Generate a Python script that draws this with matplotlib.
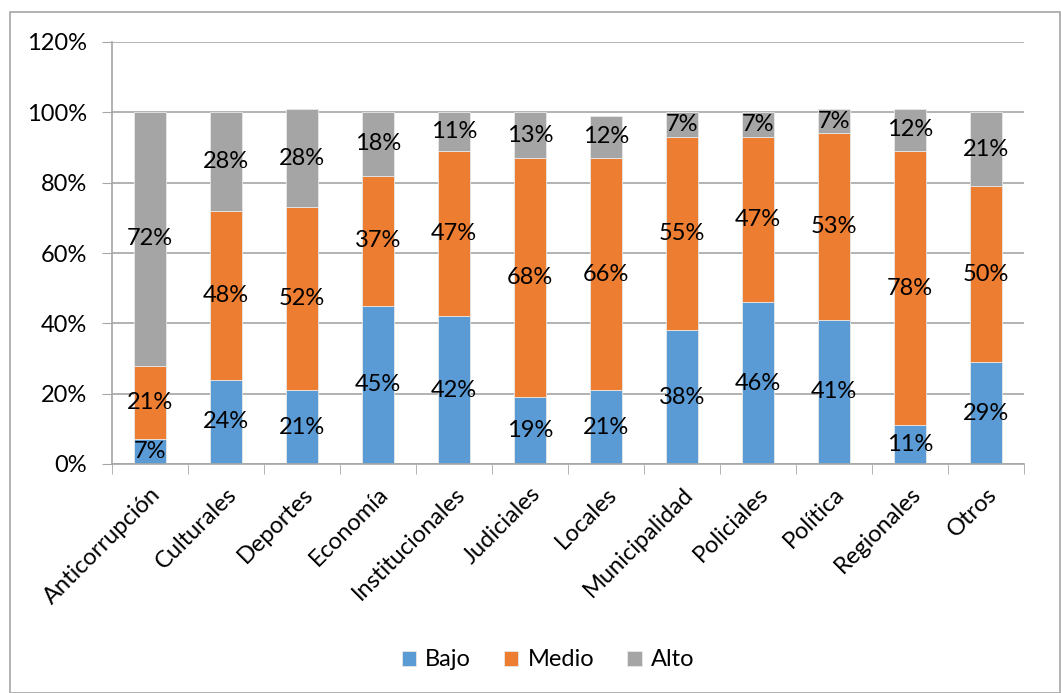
import numpy as np
import matplotlib.pyplot as plt
from matplotlib.patches import Rectangle

plt.rcParams['font.family'] = ['Lato', 'DejaVu Sans']

categories = ["Anticorrupción", "Culturales", "Deportes", "Economía", "Institucionales",
              "Judiciales", "Locales", "Municipalidad", "Policiales", "Política",
              "Regionales", "Otros"]
bajo = [7, 24, 21, 45, 42, 19, 21, 38, 46, 41, 11, 29]
medio = [21, 48, 52, 37, 47, 68, 66, 55, 47, 53, 78, 50]
alto = [72, 28, 28, 18, 11, 13, 12, 7, 7, 7, 12, 21]

colors = ["#5B9BD5", "#ED7D31", "#A5A5A5"]
names = ["Bajo", "Medio", "Alto"]

fig = plt.figure(figsize=(10.61, 6.93), dpi=100)
ax = fig.add_axes([112 / 1061, 1 - 464 / 693, 912 / 1061, 422 / 693])

x = np.arange(len(categories))
bottom = np.zeros(len(categories))
for vals, c, n in zip([bajo, medio, alto], colors, names):
    vals = np.array(vals)
    ax.bar(x, vals, 0.42, bottom=bottom, color=c, label=n, zorder=2,
           edgecolor="#E8E8E8", linewidth=0.6)
    for xi, b, v in zip(x, bottom, vals):
        ax.text(xi, b + v / 2, f"{v}%", ha="center", va="center", fontsize=17, zorder=3)
    bottom = bottom + vals

ax.set_xlim(-0.5, len(categories) - 0.5)
ax.set_ylim(0, 120)
ax.set_yticks(range(0, 121, 20))
ax.set_yticklabels([f"{v}%" for v in range(0, 121, 20)], fontsize=17)
ax.yaxis.grid(True, color="#A6A6A6", linewidth=1.2, zorder=0)
ax.set_axisbelow(True)

ax.set_xticks(x)
ax.set_xticklabels(categories, rotation=45, ha="right", rotation_mode="anchor", fontsize=17)
ax.set_xticks(np.arange(-0.5, len(categories), 1), minor=True)
ax.tick_params(axis="x", which="major", length=0, pad=14)
ax.tick_params(axis="x", which="minor", length=7, color="#A6A6A6")
ax.tick_params(axis="y", length=7, color="#A6A6A6", pad=11)

for s in ["top", "right"]:
    ax.spines[s].set_visible(False)
for s in ["left", "bottom"]:
    ax.spines[s].set_color("#A6A6A6")
    ax.spines[s].set_linewidth(1.2)

fig.legend(loc="center", bbox_to_anchor=(548 / 1061, 1 - 660 / 693), ncol=3, frameon=False,
           fontsize=17, handlelength=0.6, handleheight=0.6, handletextpad=0.4, columnspacing=1.4)

fig.patches.append(Rectangle((10 / 1061, 0), 1 - 10 / 1061 - 0.001, 1 - 12 / 693,
                             transform=fig.transFigure, fill=False, edgecolor="#A6A6A6",
                             linewidth=1.2))

fig.savefig("out.png", dpi=100)
